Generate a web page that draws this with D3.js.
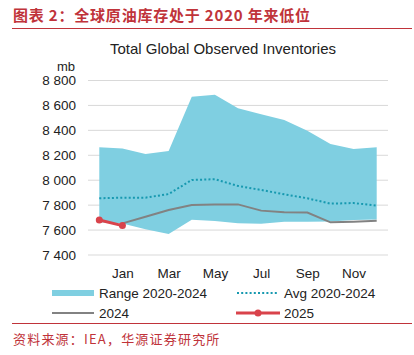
<!DOCTYPE html>
<html><head><meta charset="utf-8">
<script src="https://cdn.jsdelivr.net/npm/d3@7"></script>
<style>
html,body{margin:0;padding:0;background:#fff;}
svg{display:block;}
</style></head>
<body>
<script>
const categories = ["Dec","Jan","Feb","Mar","Apr","May","Jun","Jul","Aug","Sep","Oct","Nov","Dec"];
const tickLabels = ["Jan","Mar","May","Jul","Sep","Nov"];
const rangeMax = [8265,8255,8210,8235,8670,8685,8578,8530,8483,8397,8290,8250,8265];
const rangeMin = [7662,7652,7606,7568,7682,7673,7655,7650,7667,7667,7668,7680,7685];
const avg2020_2024 = [7855,7860,7860,7889,8002,8008,7954,7922,7887,7855,7812,7817,7796];
const y2024 = [null,7654,7707,7761,7801,7806,7806,7756,7743,7740,7662,7667,7675];
const y2025 = [7681,7636];
const yTicks = [7400,7600,7800,8000,8200,8400,8600,8800];

const W=414,H=355;
const svg=d3.select("body").append("svg").attr("width",W).attr("height",H);
const font="'Liberation Sans', Arial, sans-serif";

// header
svg.append("text").attr("x",13).attr("y",20.5)
  .attr("font-family","'Noto Sans CJK SC', sans-serif").attr("font-weight","bold")
  .attr("font-size",15).attr("letter-spacing",0.8).attr("fill","#c0333a").text("图表 2：全球原油库存处于 2020 年来低位");
svg.append("line").attr("x1",12).attr("x2",412).attr("y1",28.5).attr("y2",28.5).attr("stroke","#c0333a").attr("stroke-width",1);

svg.append("text").attr("x",223).attr("y",54).attr("text-anchor","middle")
  .attr("font-family",font).attr("font-size",15).attr("fill","#222").text("Total Global Observed Inventories");

const x=d3.scaleLinear().domain([0,categories.length-1]).range([99.3,376.7]);
const y=d3.scaleLinear().domain([7400,8800]).range([255,80.5]);

// grid
const yAxis=d3.axisLeft(y).tickValues(yTicks).tickSize(0).tickPadding(12)
  .tickFormat(d=>d3.format(",")(d).replace(","," "));
const gy=svg.append("g").attr("transform","translate(88,0)").call(yAxis);
gy.select(".domain").remove();
gy.selectAll("text").attr("font-family",font).attr("font-size",13.5).attr("fill","#222");
svg.append("g").selectAll("line").data(yTicks).join("line")
  .attr("x1",88).attr("x2",388).attr("y1",d=>y(d)).attr("y2",d=>y(d))
  .attr("stroke","#d9d9d9").attr("stroke-width",1);
svg.append("text").attr("x",75).attr("y",71).attr("text-anchor","end")
  .attr("font-family",font).attr("font-size",13).attr("fill","#222").text("mb");

// area
const area=d3.area().x((d,i)=>x(i)).y0((d,i)=>y(rangeMin[i])).y1(d=>y(d));
svg.append("path").datum(rangeMax).attr("d",area).attr("fill","#7fcfe1");

// avg
const line=d3.line().defined(d=>d!=null).x((d,i)=>x(i)).y(d=>y(d));
svg.append("path").datum(avg2020_2024).attr("d",line).attr("fill","none")
  .attr("stroke","#1799b0").attr("stroke-width",2).attr("stroke-dasharray","2 2.2");
// 2024
svg.append("path").datum(y2024).attr("d",line).attr("fill","none")
  .attr("stroke","#828282").attr("stroke-width",2);
// 2025
svg.append("path").datum(y2025).attr("d",line).attr("fill","none")
  .attr("stroke","#d9434b").attr("stroke-width",3);
svg.append("g").selectAll("circle").data(y2025).join("circle")
  .attr("cx",(d,i)=>x(i)).attr("cy",d=>y(d)).attr("r",3.5).attr("fill","#d9434b");

// x axis labels
const xAxis=d3.axisBottom(x).tickValues(tickLabels.map(t=>categories.indexOf(t,1)))
  .tickFormat(i=>categories[i]).tickSize(0).tickPadding(10);
const gx=svg.append("g").attr("transform","translate(0,258)").call(xAxis);
gx.select(".domain").remove();
gx.selectAll("text").attr("font-family",font).attr("font-size",13.5).attr("fill","#222");

// legend
const lg=svg.append("g").attr("font-family",font).attr("font-size",13.5).attr("fill","#222");
lg.append("rect").attr("x",52).attr("y",290).attr("width",42).attr("height",6).attr("fill","#7fcfe1");
lg.append("text").attr("x",99).attr("y",297.5).text("Range 2020-2024");
lg.append("line").attr("x1",237).attr("x2",279).attr("y1",293).attr("y2",293)
  .attr("stroke","#1799b0").attr("stroke-width",2).attr("stroke-dasharray","2 2.2");
lg.append("text").attr("x",284).attr("y",297.5).text("Avg 2020-2024");
lg.append("line").attr("x1",52).attr("x2",94).attr("y1",313).attr("y2",313).attr("stroke","#828282").attr("stroke-width",2);
lg.append("text").attr("x",99).attr("y",318).text("2024");
lg.append("line").attr("x1",236).attr("x2",280).attr("y1",313).attr("y2",313).attr("stroke","#d9434b").attr("stroke-width",3);
lg.append("circle").attr("cx",258).attr("cy",313).attr("r",3.5).attr("fill","#d9434b");
lg.append("text").attr("x",284).attr("y",318).text("2025");

svg.append("line").attr("x1",12).attr("x2",412).attr("y1",323.5).attr("y2",323.5).attr("stroke","#c0333a").attr("stroke-width",1);
svg.append("text").attr("x",13).attr("y",344)
  .attr("font-family","'Noto Sans CJK SC', sans-serif").attr("font-size",13).attr("letter-spacing",1.2).attr("fill","#c0333a")
  .text("资料来源：IEA，华源证券研究所");
</script>
</body></html>
